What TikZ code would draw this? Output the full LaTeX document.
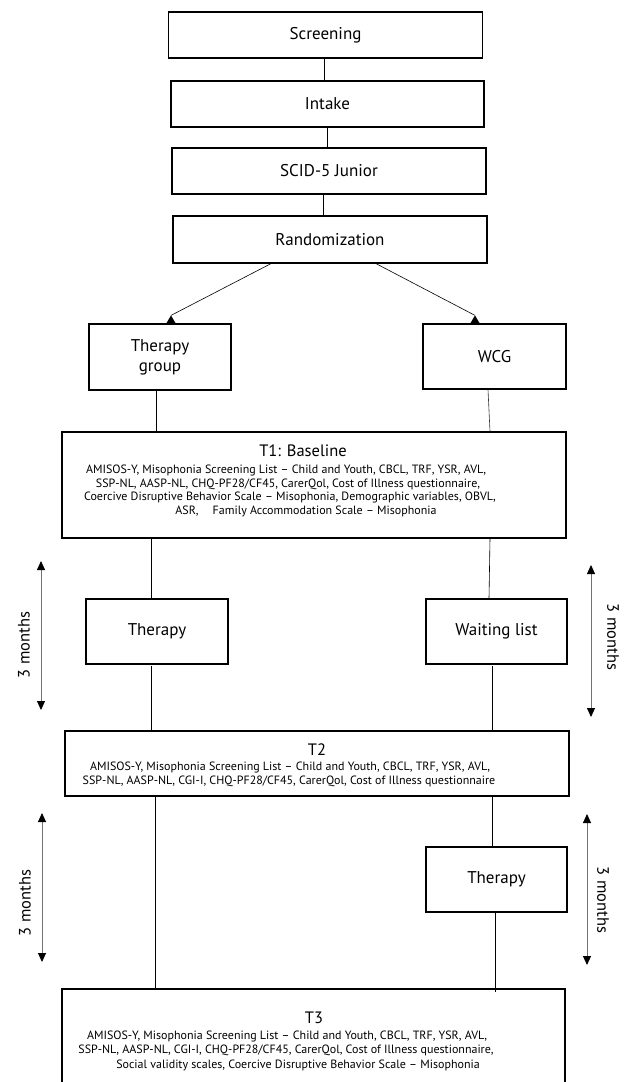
\documentclass[tikz,border=0pt]{standalone}
\usepackage{fontspec}
\setmainfont{PT Sans}
\usetikzlibrary{arrows.meta,calc}
\begin{document}
\begin{tikzpicture}[x=1pt,y=-1pt,
  box/.style={draw=black,line width=1.2pt,inner sep=0pt,align=center,
    font=\fontsize{17}{20}\selectfont},
  title/.style={inner sep=0pt,anchor=base,font=\fontsize{16.5}{19}\selectfont},
  small/.style={inner sep=0pt,anchor=base,font=\fontsize{12}{13}\selectfont},
  conn/.style={line width=0.8pt,draw=black},
  span/.style={draw=black!55,line width=0.9pt,
    {Triangle[black,width=8pt,length=9pt]}-{Triangle[black,width=8pt,length=9pt]}},
  months/.style={inner sep=0pt,font=\fontsize{16.5}{19}\selectfont},
  tip/.style={fill=black}]
\clip (0,0) rectangle (630,1082);
\fill[white] (0,0) rectangle (630,1082);

% top chain
\node[box,minimum width=314pt,minimum height=46pt] (scr) at (325.5,35) {Screening};
\node[box,minimum width=313pt,minimum height=46pt] (intk) at (327.5,104) {Intake};
\node[box,minimum width=314pt,minimum height=46pt] (scid) at (329,171) {SCID-5 Junior};
\node[box,minimum width=314pt,minimum height=47pt] (rand) at (330,239.5) {Randomization};

\draw[conn] ($(scr.south)+(-1.5,0)$) -- ($(intk.north)+(-3.5,0)$);
\draw[conn] (intk.south) -- (intk.south |- scid.north);
\draw[conn] ($(scid.south)+(-6,0)$) -- ($(rand.north)+(-7,0)$);

% groups
\node[box,minimum width=142pt,minimum height=66pt] (tg) at (160,357) {Therapy\\group};
\node[box,minimum width=143pt,minimum height=65pt] (wcg) at (494.5,356.5) {WCG};

\draw[line width=0.6pt] ($(rand.south)+(-59,0)$) -- ($(tg.north)+(11,-8)$);
\fill[tip] ($(tg.north)+(11,-8)$) -- ($(tg.north)+(16,0.5)$) -- ($(tg.north)+(6,0.5)$) -- cycle;
\draw[line width=0.6pt] ($(rand.south)+(46,0)$) -- ($(wcg.north)+(-19.5,-8)$);
\fill[tip] ($(wcg.north)+(-19.5,-8)$) -- ($(wcg.north)+(-14.5,0.5)$) -- ($(wcg.north)+(-24.5,0.5)$) -- cycle;

% T1
\node[box,minimum width=504pt,minimum height=106pt] (t1) at (314,485) {};
\node[title] (t1h) at (303,456) {T1: Baseline};
\node[small] (t1a) at (286,473.5) {AMISOS-Y, Misophonia Screening List – Child and Youth, CBCL, TRF, YSR, AVL,};
\node[small] (t1b) at (288,487) {SSP-NL, AASP-NL, CHQ-PF28/CF45, CarerQol, Cost of Illness questionnaire,};
\node[small] (t1c) at (290,500.5) {Coercive Disruptive Behavior Scale – Misophonia, Demographic variables, OBVL,};
\node[small] (t1d) at (306,514) {ASR,\hspace{14pt}Family Accommodation Scale – Misophonia};

\draw[conn] ($(tg.south)+(-4,0)$) -- ($(tg.south |- t1.north)+(-4,0)$);
\draw[line width=0.6pt,draw=black!80] ($(wcg.south)+(-6.5,0)$) -- ($(wcg.south |- t1.north)+(-4.5,0)$);

% therapy / waiting list
\node[box,minimum width=142pt,minimum height=65pt] (th1) at (157,631.5) {Therapy};
\node[box,minimum width=141pt,minimum height=65pt] (wl) at (496.5,631.5) {Waiting list};

\draw[line width=0.6pt] ($(th1.north |- t1.south)+(-6,0)$) -- ($(th1.north)+(-6,0)$);
\draw[line width=0.6pt] ($(wl.north |- t1.south)+(-6.5,0)$) -- ($(wl.north)+(-7.5,0)$);

% T2
\node[box,minimum width=504pt,minimum height=65pt] (t2) at (317,763.5) {};
\node[title] (t2h) at (317,755.5) {T2};
\node[small] (t2a) at (290,770.5) {AMISOS-Y, Misophonia Screening List – Child and Youth, CBCL, TRF, YSR, AVL,};
\node[small] (t2b) at (289,784.5) {SSP-NL, AASP-NL, CGI-I, CHQ-PF28/CF45, CarerQol, Cost of Illness questionnaire};

\draw[line width=0.6pt] ($(th1.south)+(-6,1)$) -- ($(th1.south |- t2.north)+(-6,0)$);
\draw[line width=0.6pt] ($(wl.south)+(-4.5,1)$) -- ($(wl.south |- t2.north)+(-4.5,0)$);

% second therapy
\node[box,minimum width=141pt,minimum height=65pt] (th2) at (496.5,879.5) {Therapy};

% T3
\node[box,minimum width=503pt,minimum height=130pt] (t3) at (313.5,1054) {};
\node[title] (t3h) at (314,1023.5) {T3};
\node[small] (t3a) at (287,1039.5) {AMISOS-Y, Misophonia Screening List – Child and Youth, CBCL, TRF, YSR, AVL,};
\node[small] (t3b) at (286,1053.5) {SSP-NL, AASP-NL, CGI-I, CHQ-PF28/CF45, CarerQol, Cost of Illness questionnaire,};
\node[small] (t3c) at (298,1068) {Social validity scales, Coercive Disruptive Behavior Scale – Misophonia};

\draw[line width=0.6pt] ($(t2.south)+(-162,0)$) -- ($(t2.south |- t3.north)+(-162,0)$);
\draw[line width=0.6pt] ($(th2.north |- t2.south)+(-4.5,0)$) -- ($(th2.north)+(-4.5,0)$);
\draw[line width=0.6pt] ($(th2.south)+(-1.5,0)$) -- ($(th2.south |- t3.north)+(-1.5,4)$);

% 3 months spans
\coordinate (l1a) at (41,561);
\coordinate (l1b) at (41,710);
\coordinate (r1a) at (591,565);
\coordinate (r1b) at (591,717);
\coordinate (l2a) at (42,813);
\coordinate (l2b) at (42,962);
\coordinate (r2a) at (587,814);
\coordinate (r2b) at (587,965);
\draw[span] (l1a) -- (l1b);
\draw[span] (r1a) -- (r1b);
\draw[span] (l2a) -- (l2b);
\draw[span] (r2a) -- (r2b);
\node[months,rotate=90] (ml1) at (24,645) {3 months};
\node[months,rotate=-90] (mr1) at (613,637) {3 months};
\node[months,rotate=90] (ml2) at (25,903) {3 months};
\node[months,rotate=-90] (mr2) at (603,900) {3 months};
\end{tikzpicture}
\end{document}
